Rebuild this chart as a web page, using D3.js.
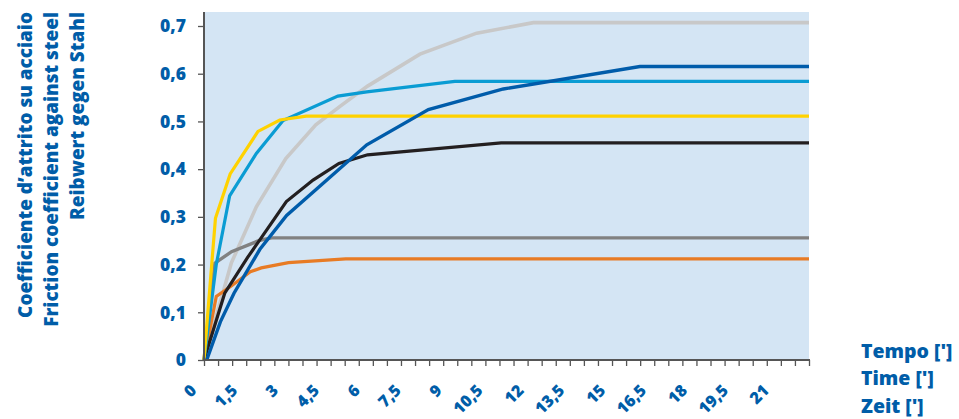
<!DOCTYPE html>
<html>
<head>
<meta charset="utf-8">
<script src="https://cdn.jsdelivr.net/npm/d3@7"></script>
<style>
  html, body { margin: 0; padding: 0; background: #ffffff; }
  svg { display: block; }
  text { font-family: "Open Sans", "Noto Sans", sans-serif; font-weight: 800; fill: #005DA8; }
</style>
</head>
<body>
<svg id="chart" width="959" height="419"></svg>
<script>
// ---- data (time in minutes, friction coefficient) ----
const yellowT = [0, 0.42, 0.96, 1.98, 2.78, 3.75, 22.19];
const yellowV = [0, 0.297, 0.39, 0.479, 0.503, 0.511, 0.511];

const cyanT = [0, 0.45, 0.94, 1.92, 2.9, 4.91, 5.97, 9.2, 22.19];
const cyanV = [0, 0.2, 0.344, 0.433, 0.502, 0.553, 0.562, 0.584, 0.584];

const lightGrayT = [0, 1.0, 1.92, 3.0, 4.1, 5.0, 6.0, 7.92, 10.0, 12.08, 22.19];
const lightGrayV = [0, 0.203, 0.321, 0.422, 0.493, 0.532, 0.574, 0.641, 0.685, 0.707, 0.707];

const darkBlueT = [0.1, 0.6, 1.1, 2.05, 3.03, 5.97, 8.23, 10.98, 15.99, 22.19];
const darkBlueV = [0, 0.08, 0.14, 0.232, 0.303, 0.451, 0.525, 0.568, 0.615, 0.615];

const blackT = [0, 0.76, 1.6, 3.02, 4.0, 4.95, 6.0, 10.9, 22.19];
const blackV = [0, 0.14, 0.215, 0.332, 0.377, 0.412, 0.43, 0.455, 0.455];

const darkGrayT = [0, 0.4, 1.01, 2.05, 2.48, 22.19];
const darkGrayV = [0, 0.203, 0.227, 0.251, 0.256, 0.256];

const orangeT = [0, 0.45, 1.0, 1.7, 2.1, 3.1, 5.2, 22.19];
const orangeV = [0, 0.133, 0.155, 0.185, 0.193, 0.204, 0.212, 0.212];

const yTickValues = [0, 0.1, 0.2, 0.3, 0.4, 0.5, 0.6, 0.7];
const xLabelValues = [0, 1.5, 3, 4.5, 6, 7.5, 9, 10.5, 12, 13.5, 15, 16.5, 18, 19.5, 21];
const yTitleLines = ["Coefficiente d\u2019attrito su acciaio", "Friction coefficient against steel", "Reibwert gegen Stahl"];
const xTitleLines = ["Tempo [']", "Time [']", "Zeit [']"];

// ---- layout ----
const xMax = 22.19;
const plotLeft = 204, plotRight = 809, plotTop = 12, plotBottom = 360;

const svg = d3.select("#chart");
const x = d3.scaleLinear().domain([0, xMax]).range([plotLeft, plotRight]);
const y = d3.scaleLinear().domain([0, 0.7]).range([plotBottom, 26]);

// plot background
svg.append("rect")
  .attr("x", plotLeft).attr("y", plotTop)
  .attr("width", plotRight - plotLeft).attr("height", plotBottom - plotTop)
  .attr("fill", "#D4E5F4");

// series
const series = [
  { t: lightGrayT, v: lightGrayV, color: "#C8C8C8", w: 3.6 },
  { t: darkGrayT, v: darkGrayV, color: "#818181", w: 3.4 },
  { t: orangeT, v: orangeV, color: "#E87B24", w: 3.2 },
  { t: blackT, v: blackV, color: "#231F20", w: 3.2 },
  { t: cyanT, v: cyanV, color: "#0A9CD3", w: 3.2 },
  { t: yellowT, v: yellowV, color: "#FFD200", w: 3.2 },
  { t: darkBlueT, v: darkBlueV, color: "#005CAA", w: 3.4 }
];
const line = d3.line().x(d => x(d[0])).y(d => y(d[1]));
svg.append("g").selectAll("path").data(series).join("path")
  .attr("d", s => line(d3.zip(s.t, s.v)))
  .attr("fill", "none")
  .attr("stroke", s => s.color)
  .attr("stroke-width", s => s.w)
  .attr("stroke-linejoin", "miter");

// axes
const axisColor = "#555555";
const minorTicks = d3.range(44).map(i => xMax * i / 43);
const xAxis = svg.append("g").attr("transform", `translate(0,${plotBottom})`)
  .call(d3.axisBottom(x).tickValues(minorTicks).tickFormat("").tickSize(6).tickSizeOuter(0));
xAxis.select(".domain").remove();
xAxis.selectAll(".tick line").attr("stroke", axisColor).attr("stroke-width", 1.3);

const yAxis = svg.append("g").attr("transform", `translate(${plotLeft},0)`)
  .call(d3.axisLeft(y).tickValues(yTickValues).tickFormat("").tickSize(6).tickSizeOuter(0));
yAxis.select(".domain").remove();
yAxis.selectAll(".tick line").attr("stroke", axisColor).attr("stroke-width", 1.3);

svg.append("line").attr("x1", plotLeft).attr("x2", plotLeft).attr("y1", plotTop).attr("y2", plotBottom + 1)
  .attr("stroke", axisColor).attr("stroke-width", 2);
svg.append("line").attr("x1", plotLeft - 1).attr("x2", plotRight + 1).attr("y1", plotBottom).attr("y2", plotBottom)
  .attr("stroke", axisColor).attr("stroke-width", 2);

const fmt = v => v === 0 ? "0" : String(v).replace(".", ",");

// y tick labels
svg.append("g").selectAll("text").data(yTickValues).join("text")
  .attr("x", 186).attr("y", d => y(d)).attr("dy", "0.36em")
  .attr("text-anchor", "end").attr("font-size", 17.5)
  .text(d => d === 0 ? "0" : d3.format(".1f")(d).replace(".", ","));

// x tick labels (rotated)
svg.append("g").selectAll("text").data(xLabelValues).join("text")
  .attr("transform", d => `translate(${x(d) - 6.5},391.5) rotate(-45)`)
  .attr("text-anchor", "end").attr("font-size", 16.3)
  .text(fmt);

// y title
svg.append("g").selectAll("text").data(yTitleLines).join("text")
  .attr("transform", (d, i) => `translate(${32 + i * 26},12) rotate(-90)`)
  .attr("text-anchor", "end").attr("font-size", 18.9)
  .text(d => d);

// x title
svg.append("g").selectAll("text").data(xTitleLines).join("text")
  .attr("x", 861).attr("y", (d, i) => 357.5 + i * 27.8)
  .attr("font-size", 19.5)
  .text(d => d);
</script>
</body>
</html>
